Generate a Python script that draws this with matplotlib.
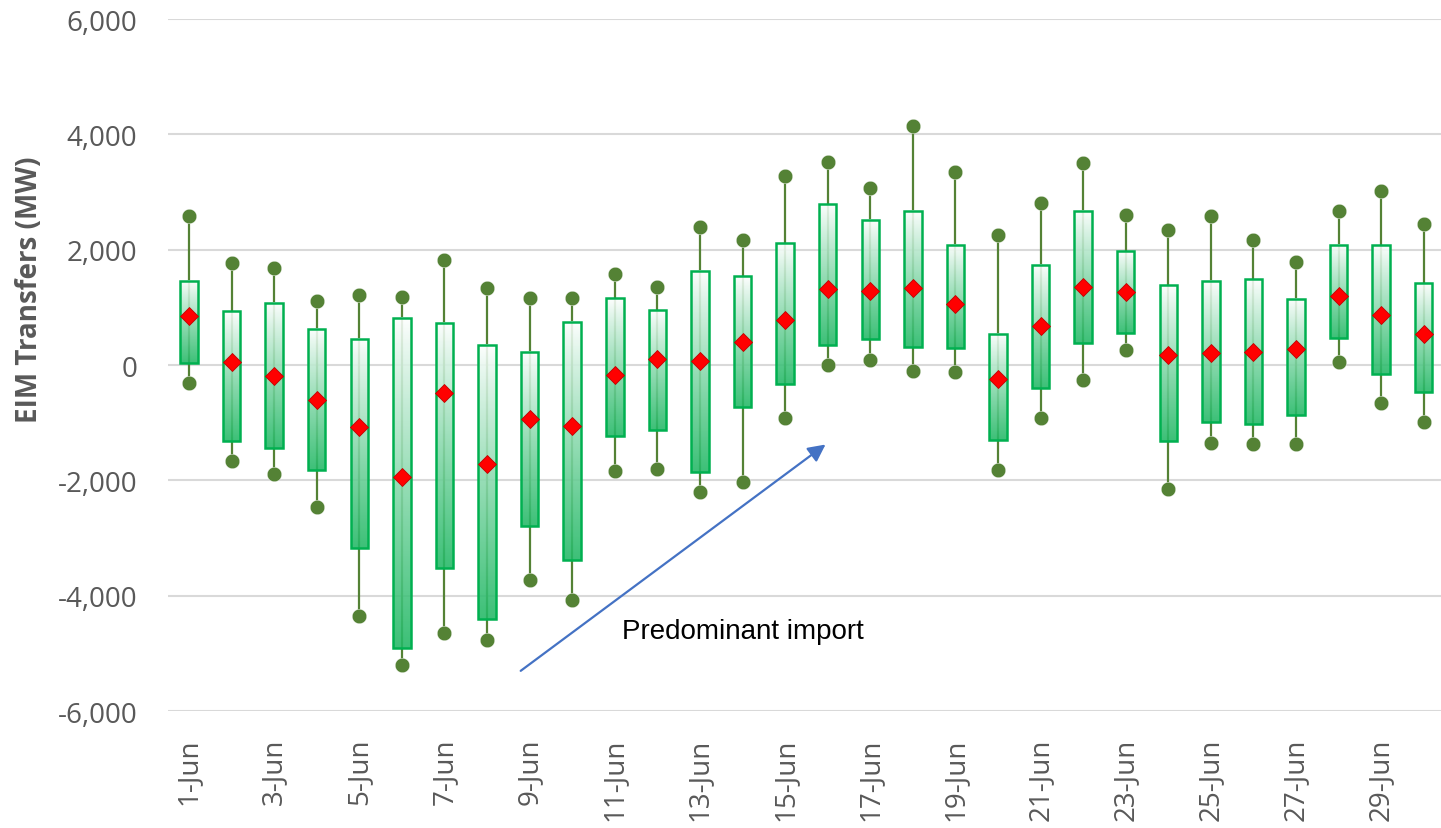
import numpy as np
import matplotlib
matplotlib.use("Agg")
import matplotlib.pyplot as plt
from matplotlib.colors import to_rgb
from matplotlib.ticker import FuncFormatter, FixedLocator

# daily EIM transfer distribution (MW)
days = ["%d-Jun" % d for d in range(1, 31)]
low = [-306, -1667, -1885, -2456, -4347, -5200, -4647, -4768, -3735, -4070,
       -1839, -1799, -2208, -2035, -911, -7, 92, -104, -127, -1816,
       -911, -260, 253, -2156, -1349, -1372, -1372, 52, -657, -992]
q1 = [28, -1309, -1436, -1828, -3171, -4906, -3528, -4410, -2796, -3384,
      -1234, -1119, -1862, -721, -323, 346, 450, 311, 294, -1303,
      -404, 386, 564, -1309, -992, -1015, -871, 467, -150, -462]
mean = [858, 52, -185, -600, -1073, -1943, -479, -1724, -934, -1055,
        -168, 97, 69, 408, 783, 1314, 1280, 1331, 1060, -249,
        685, 1354, 1262, 173, 207, 230, 270, 1193, 876, 541]
q3 = [1457, 944, 1083, 628, 455, 824, 726, 351, 230, 749,
      1158, 962, 1631, 1550, 2120, 2789, 2518, 2674, 2086, 541,
      1734, 2680, 1982, 1394, 1458, 1492, 1141, 2086, 2086, 1418]
high = [2577, 1769, 1688, 1117, 1216, 1176, 1827, 1331, 1158, 1158,
        1573, 1354, 2386, 2167, 3273, 3527, 3078, 4143, 3348, 2248,
        2818, 3510, 2604, 2345, 2582, 2167, 1792, 2674, 3014, 2438]
yticks = [-6000, -4000, -2000, 0, 2000, 4000, 6000]
note = "Predominant import"

GRAY = "#595959"
BOX_EDGE = "#00B050"
WHISKER = "#548235"

fig = plt.figure(figsize=(14.41, 8.29), dpi=100)
ax = fig.add_axes([0.1164, 0.1411, 0.8864, 0.8347])

# vertical gradient, white at the top to green at the bottom
top_c = np.array(to_rgb("#FFFFFF"))
bot_c = np.array(to_rgb("#22B865"))
t = np.linspace(0, 1, 200) ** 0.9
grad = np.zeros((200, 1, 4))
grad[:, 0, :3] = top_c[None, :] * (1 - t[:, None]) + bot_c[None, :] * t[:, None]
grad[:, 0, 3] = 0.88

w = 0.41
for i in range(len(days)):
    ax.plot([i, i], [low[i], high[i]], color=WHISKER, lw=1.6, zorder=2)
    ax.imshow(grad, extent=(i - w / 2, i + w / 2, q1[i], q3[i]), origin="upper",
              aspect="auto", interpolation="bilinear", zorder=3)
    ax.add_patch(plt.Rectangle((i - w / 2, q1[i]), w, q3[i] - q1[i], fill=False,
                               edgecolor=BOX_EDGE, lw=1.8, zorder=4))

x = np.arange(len(days))
ax.plot(x, low, "o", color=WHISKER, ms=10.5, mec="white", mew=0.3, zorder=5)
ax.plot(x, high, "o", color=WHISKER, ms=10.5, mec="white", mew=0.3, zorder=5)
ax.plot(x, mean, "D", color="#FF0000", ms=9, mec="#C00000", mew=0.6, zorder=6)

ax.annotate("", xy=(14.95, -1378), xytext=(7.79, -5303),
            arrowprops=dict(arrowstyle="-|>", color="#4472C4", lw=1.6,
                            mutation_scale=26, shrinkA=0, shrinkB=0), zorder=6)
ax.text(10.16, -4612, note, fontsize=20, family="Liberation Sans",
        color="black", ha="left", va="center")

ax.set_xlim(-0.5, len(days) - 0.5)
ax.set_ylim(-6000, 6000)
ax.yaxis.set_major_locator(FixedLocator(yticks))
ax.yaxis.set_major_formatter(FuncFormatter(lambda v, p: "{:,.0f}".format(v)))
ax.set_xticks(x[::2])
ax.set_xticklabels(days[::2], rotation=90)
ax.grid(axis="y", color="#D9D9D9", lw=1.5, zorder=0)
ax.set_axisbelow(True)
for s in ["top", "right", "left", "bottom"]:
    ax.spines[s].set_visible(False)
ax.tick_params(length=0, labelsize=20, labelcolor=GRAY)
ax.tick_params(axis="y", pad=22)
ax.tick_params(axis="x", pad=19)
for lab in ax.get_xticklabels() + ax.get_yticklabels():
    lab.set_family("Open Sans")

fig.text(30 / 1441, 1 - 290 / 829, "EIM Transfers (MW)", rotation=90,
         fontsize=20, fontweight="bold", family="Open Sans", color=GRAY,
         ha="center", va="center")

fig.savefig("out.png", dpi=100)
